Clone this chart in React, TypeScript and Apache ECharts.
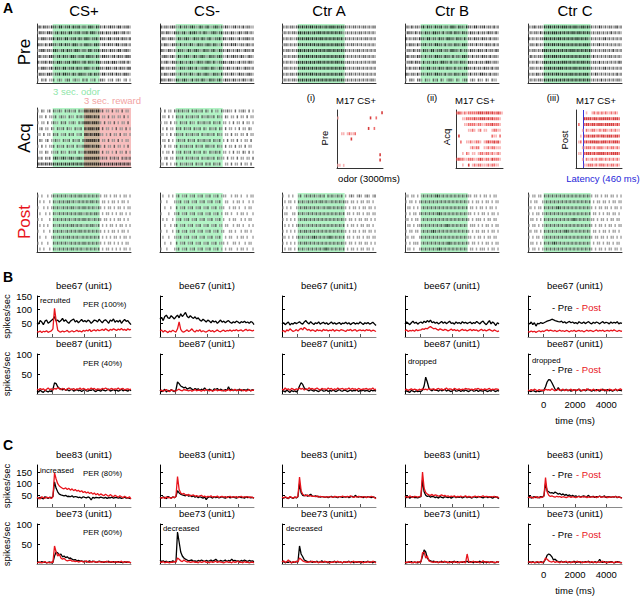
import React, { useEffect, useRef } from "react";
import * as echarts from "echarts";

// ---------------- data ----------------
const columnNames = ["CS+", "CS-", "Ctr A", "Ctr B", "Ctr C"];
const rowNames = ["Pre", "Acq", "Post"];
const timeMin = -1000;
const timeMax = 5000;
const xTickValues = [0, 2000, 4000];
const odorWindow = [0, 3000];
const rewardWindow = [2000, 5000];
const latencyMs = 460;

// raster rows: one char per 125 ms bin from -1000 ms; 0 none, 1 light, 2 mid, 3 dark spike
const preCSplus = [
  "231322132213312231322312213321322131232213312231",
  "132213321231322133122312231332122313221332123121",
  "213321223132213312231321332122313221331223132213",
  "322131332212313221332121332213321231322133122312",
  "123312213321231322133212213312231322132213312321",
  "231221332123132213321223133221321332212313221332",
  "312231322133212231332212313221332122313321223131",
  "213321231322133122313221332121332213321231322133",
  "132213321223133221321332212313221331223132213321",
  "102120112012101220121102120112012210112012101201",
];
const preCSminus = [
  "312212321131221232113212311232121321123121312211",
  "221321132212311323212132112321231221321132123121",
  "132123211321232113221321231122313212321131223212",
  "213211322131221321132212321321131221323112213212",
  "321132121322113212321132212311322132121321132213",
  "123212311321232113212321132212321131232213211321",
  "212311322132121321132212321311223212321131221321",
  "331221321132212321311223213211322132121321132212",
  "213212321131221321132123211322131221321132212321",
  "322132113212321131221321132212311322132121321131",
];
const preCtrA = [
  "212122123232323323232232333232322121221212212122",
  "121212213323232232332323232323211212121221212121",
  "212121123232332323233232323232312121212121221212",
  "122121213232323232323323232332321212212121212121",
  "212212123323232323232323323232322121212212121212",
  "121212213232332323232323232323231212121212212121",
  "212121123232323232332323232332321221212121212122",
  "122121213233232323232323232323232121212212121212",
  "212122123232323323232323232323312122121212121212",
  "121212213232323232323232323232321212121212121221",
];
const preCtrB = [
  "221312212313221322312213321322132213312231221312",
  "132213122132213322131223132213221322131221322131",
  "312122132213312213221332213221312213221322131221",
  "213221312231221332213122132213321221312213221312",
  "122131221322133122312213322131221322132213122132",
  "231221322131221332213221312213322131221322131221",
  "122313221312213221332213122132213221312213321221",
  "213122132213312213221322131221332213122132213122",
  "321221312213221332213122132213221312213322131221",
  "102210221021102120210122102101220121021102102110",
];
const preCtrC = [
  "212312213233232323332323322332322121321212212312",
  "121221313232333232323233233232321212212121312121",
  "312121223323232332323232332323212121212312121212",
  "122131213232332323323232323233321212312121212121",
  "212212133323232323232333232323232121212212131212",
  "131212213232333232323232323232321312121212212121",
  "212131123323232323332323232332321221312121212132",
  "122121313233232333232323323232322121212312121212",
  "212132123232323323232332323233312132121212121312",
  "121212213232323232323232323232321212131212121221",
];
const acqCSplus = [
  "102101202112102121120211332332331201102011020110",
  "011020111201211021102121233323230110201101102010",
  "101102012110212011210212333233321020110201011020",
  "012011021021120211021120323332330201101020110201",
  "110201102120112021201120332323331101020110201101",
  "021012011211021120211202233333230110201102010110",
  "102010112021120211202112333232331020110201101020",
  "011021011120211021120211323333320201101020110201",
  "212021202321232123212321333333331212021212021212",
  "323232323232323232323232333333333232323232323232",
];
const acqCSminus = [
  "102011021212112021211202102011021121102011210201",
  "011020102112021121120211211202110210110201102011",
  "101102011021120211021121120211201101020110201101",
  "010201102120211202112021021120210201101020110210",
  "110102012112021121120211211202110110201101102011",
  "011020101211202112021121120211201020110201011020",
  "102011012021121120211202211202110201102011020110",
  "010110201120211202112021021121201101020110210201",
  "101201102112021121120211211202111020110201101102",
  "110201012021121120211202120211200110201102011020",
];
const postCSplus = [
  "101001012121212112121221212121211011010110101101",
  "010100102112121221211212121221210110101101011010",
  "100101012121121212211212212121121010110101101011",
  "010010102112121212121221121212210101101010110101",
  "101000102121212121121212212112121011010101101010",
  "010101002112121212212121121221120101011010110101",
  "100100102121211212121221212121211010101101011010",
  "010010012112121221212112121212120101010110101101",
  "101001002121212112121212212121211010110101010110",
  "010100102112121212212121121212120101101010101101",
];
const postCSminus = [
  "010010101201120112011201120112011100101101001011",
  "100100011120112011201120112011200110010110100101",
  "001001002011201120112011201120111001011010010110",
  "100010011201120112011201120112010110100101101001",
  "010100101120112011201120112011201001011001010110",
  "001001012011201120112011201120110110010110100101",
  "100100101201120112011201120112011001101001011010",
  "010010011120112011201120112011200101100101101001",
  "001001002011201120112011201120111010011010010110",
  "100100011201120112011201120112010101100101101001",
];
const postCtrA = [
  "100101001201212121121202121121201012101210121012",
  "010110102121121212122121121212121101101011011010",
  "101010011212212121211212212121211010110101101101",
  "011001102121121212121212121212120110101101011011",
  "101010101212212121212121212121211011010110110101",
  "010101012121121212121212121212120101101011011010",
  "101010101212212121212121212121211010110101101101",
  "110101012121121232121212321212120110101101011011",
  "101010101212212121212121212121211011010110110101",
  "010110102121121212121232121212120101101011011010",
];
const postCtrB = [
  "110110101212121232121212121212121101101011010110",
  "101101012121212121212121212121211010110101101011",
  "011010101212121212121212121212120110101101011010",
  "101011012121212123212121212121211101010110101101",
  "110101101212121212121212121212121010111010110110",
  "011010112121212121212321212121210111010101101011",
  "101101101212123212121212121212121010110110101101",
  "110110012121212121212121212121211101011010110110",
  "101011101212121212121232121212121011010101101011",
  "011010012121212123212121212121210110101110101101",
];
const postCtrC = [
  "101101102121212121212121212121211011010110110101",
  "010110011212121212121212121212120101101101011011",
  "110101102121212321212121212121211010110110101101",
  "101011011212121212121212121212120110101011011010",
  "011010102121212121212123212121211101011010110110",
  "101101011212121212121212121212121010110101101011",
  "110110102121212121232121212121210110101101011010",
  "101011011212121212121212121212121011011010110101",
  "011010102121232121212121212121210101101011010110",
  "101101011212121212121212121212121010110101101101",
];
// M17 CS+ insets: one char per 125 ms bin over 0-3000 ms
const insetPre = [
  "000000000000000000000003",
  "100000000000000003002000",
  "000000000000000000000000",
  "000000000000000030020000",
  "001101211200000000000000",
  "000000030000000000000000",
  "000000000000000000000000",
  "000000000000000000000000",
  "000000000000000000000030",
  "000000000000000000000030",
  "110100000000000000000000",
];
const insetAcq = [
  "232121222223332332322321",
  "000112222322333232322210",
  "000011222212211222322210",
  "000000112101201100122110",
  "030000000000000000211020",
  "002001121122101232232310",
  "000000012122001121221110",
  "000102101101221221211210",
  "232211222112321221322210",
  "000100301212211121221100",
];
const insetPost = [
  "000001001212121211212100",
  "000033332332333333233320",
  "020023323323332333332320",
  "000102112211212211212110",
  "001022323323233233323320",
  "012023233333233323233320",
  "000112221212221121221210",
  "011023332323333232333320",
  "000102112121221212121210",
  "000011222121222121221210",
];

// firing-rate curves (spikes/sec), 60 samples spanning -1000..5000 ms, one array per column
const bTopTitle = "bee67 (unit1)";
const bBotTitle = "bee87 (unit1)";
const cTopTitle = "bee83 (unit1)";
const cBotTitle = "bee73 (unit1)";
const bTopPre = [
  [52,48,60,55,45,58,62,50,55,60,65,75,58,62,55,60,68,57,63,55,50,58,62,66,55,60,52,58,64,56,60,55,62,58,50,56,62,60,55,65,58,52,60,63,57,50,62,58,66,54,60,55,62,50,58,64,57,60,52,45],
  [65,72,60,75,80,70,68,78,72,66,74,80,70,85,75,82,90,76,70,78,72,68,74,66,70,62,58,65,60,55,62,58,52,60,55,58,50,56,62,54,58,52,57,60,54,50,56,52,58,55,50,56,53,58,52,55,50,56,54,45],
  [48,52,45,50,55,44,50,47,53,49,52,56,50,47,55,60,52,48,56,50,46,52,49,55,47,51,54,48,52,46,50,55,48,52,47,50,53,46,51,49,54,48,52,45,50,53,47,51,48,55,50,46,52,49,53,47,50,54,48,42],
  [48,55,50,45,52,58,50,54,47,52,55,50,58,53,60,55,62,52,56,50,54,48,52,57,50,55,49,53,58,50,52,47,55,50,53,48,56,51,54,49,52,55,48,53,50,57,52,48,55,58,50,45,53,60,48,55,50,42,52,48],
  [50,48,55,45,52,40,50,48,53,50,52,55,58,60,62,65,63,60,58,56,55,58,52,56,50,54,57,52,55,50,53,48,56,52,50,55,49,53,56,51,48,54,50,55,52,48,53,56,50,54,52,48,55,50,54,51,56,48,52,50],
];
const bTopPost = [
  [20,18,22,16,21,19,23,17,20,22,30,105,60,25,20,18,22,19,21,24,18,20,23,19,21,25,20,22,18,24,21,25,22,28,20,24,26,22,27,23,25,28,24,30,26,22,28,25,30,27,24,29,26,31,25,28,24,30,26,28],
  [22,25,18,24,20,16,22,19,25,21,18,30,55,28,20,18,22,26,20,24,30,22,18,25,21,27,19,23,20,18,22,25,20,24,18,22,26,21,19,23,25,20,24,22,26,21,25,23,27,22,24,26,21,25,28,23,26,24,22,25],
  [20,24,18,26,22,30,25,20,23,27,22,28,32,26,35,30,25,28,22,26,24,20,27,23,25,21,28,24,26,22,25,23,28,21,26,24,22,27,25,23,20,26,24,28,22,25,27,21,24,26,23,25,22,27,24,26,21,25,23,20],
  [22,26,20,24,22,25,21,27,23,25,26,30,28,32,30,35,38,34,30,32,28,25,30,27,24,28,26,22,25,29,24,27,23,26,21,25,28,24,26,22,25,28,23,27,24,26,21,25,28,23,26,22,25,28,24,21,26,23,20,22],
  [20,18,22,19,21,17,20,23,19,22,20,24,26,22,25,23,21,24,20,22,25,21,23,20,24,22,19,23,21,25,20,22,24,21,23,19,22,25,21,24,22,20,23,26,21,24,22,25,20,23,24,21,25,22,26,23,20,24,22,21],
];
const bBotPre = [
  [8,5,10,6,4,9,7,5,8,6,12,28,26,18,14,12,10,13,9,11,8,10,12,7,9,11,8,10,6,9,11,8,7,10,9,12,8,6,10,9,7,11,9,8,10,12,7,9,11,8,10,7,9,12,8,10,9,7,11,8],
  [10,6,8,12,5,9,7,11,8,6,10,30,26,20,18,15,17,12,14,16,12,10,14,11,13,9,12,10,15,11,9,12,10,8,13,11,14,9,12,10,8,11,9,18,10,12,8,11,9,10,12,8,10,11,9,12,10,8,11,9],
  [6,8,5,10,7,4,9,6,8,5,10,20,28,24,15,12,10,8,11,9,7,10,8,6,9,11,7,8,10,6,9,7,10,8,6,9,11,8,7,10,9,6,8,10,7,9,8,11,6,9,8,10,7,9,8,6,10,8,9,7],
  [5,8,6,4,9,7,5,8,6,7,6,10,20,42,30,15,10,8,12,9,10,7,11,8,9,12,7,10,8,6,9,11,7,8,10,6,9,7,10,8,6,9,11,7,8,10,6,9,8,7,10,8,6,9,7,11,8,6,9,7],
  [5,8,6,9,7,5,8,6,7,8,10,18,30,36,35,28,20,12,9,16,10,8,11,9,12,8,10,7,9,11,8,10,12,7,9,11,8,10,12,9,7,10,8,11,9,7,10,12,8,9,11,8,10,7,9,12,8,10,9,8],
];
const bBotPost = [
  [12,10,14,11,13,9,12,15,11,13,10,14,12,16,13,11,14,12,10,13,15,12,11,14,10,13,12,15,11,14,12,10,13,11,15,12,14,10,13,12,11,14,12,15,13,10,12,14,11,13,12,15,11,13,14,10,12,13,11,12],
  [8,10,7,9,11,8,6,10,9,7,8,10,12,9,8,11,10,9,8,10,7,9,11,8,10,9,7,10,8,11,9,8,10,7,9,11,8,10,9,8,10,7,9,11,8,10,9,12,8,10,9,11,8,10,7,9,11,8,10,9],
  [12,10,15,11,13,9,14,12,10,13,11,15,12,14,10,13,11,16,12,14,11,13,15,12,10,14,12,13,11,15,12,14,10,13,11,15,12,13,14,11,13,12,15,11,14,12,13,10,14,12,11,13,12,14,11,13,12,15,11,12],
  [10,12,9,11,13,10,12,11,9,12,10,13,11,12,10,14,11,12,13,10,12,14,11,13,10,12,15,11,13,12,10,14,12,11,13,10,12,11,14,12,13,11,12,10,13,12,14,11,12,10,13,11,12,14,10,12,11,13,12,11],
  [10,8,11,9,12,10,8,11,9,10,8,12,10,11,9,13,10,8,11,12,9,10,12,8,11,9,10,12,8,11,10,9,12,10,8,11,9,13,10,11,9,12,10,8,11,10,12,9,11,10,8,12,11,9,10,12,9,11,13,10],
];
const cTopPre = [
  [40,36,42,38,35,44,40,37,42,39,45,108,80,65,55,52,50,48,50,45,46,44,48,42,45,43,40,42,38,44,41,39,43,40,30,42,38,41,40,39,42,40,38,41,37,40,39,42,38,40,41,38,40,37,39,42,38,40,37,36],
  [42,38,44,40,36,45,41,38,43,40,45,70,60,55,52,50,48,52,46,50,44,48,42,46,40,44,41,38,43,32,40,44,42,38,45,40,43,39,41,44,40,38,42,45,39,41,43,40,38,42,44,40,41,38,43,40,42,39,41,38],
  [40,38,42,39,36,43,40,37,42,39,44,100,60,50,48,52,46,50,55,47,45,48,44,46,42,45,43,41,44,40,43,46,41,44,42,40,45,43,41,44,42,45,40,43,46,41,50,44,42,45,43,40,44,41,45,42,40,43,41,38],
  [45,40,43,38,42,44,40,41,39,42,44,115,65,50,45,48,42,46,44,40,43,38,45,41,39,44,42,40,43,38,42,45,40,43,41,44,39,42,45,40,43,41,38,44,42,40,43,45,41,39,42,44,40,43,41,38,42,44,40,36],
  [40,45,38,42,44,40,43,39,45,42,48,100,70,65,60,62,58,64,60,55,58,52,56,50,54,48,52,46,50,45,48,44,47,42,46,48,43,45,50,42,44,46,41,45,43,47,42,44,48,40,43,45,41,44,42,46,40,43,41,39],
];
const cTopPost = [
  [42,38,35,44,40,37,43,39,41,36,45,146,120,100,90,85,80,78,82,75,80,72,78,70,75,68,72,65,70,62,66,60,64,58,62,55,60,52,58,50,56,52,48,55,50,46,53,48,44,50,46,42,48,44,40,46,42,38,44,35],
  [40,38,42,36,44,39,41,37,43,40,45,130,75,60,55,58,52,50,54,48,50,52,46,49,45,48,50,44,47,42,46,44,48,42,45,43,47,41,44,46,42,45,40,43,46,41,44,42,45,40,43,46,41,44,42,45,40,43,41,38],
  [42,39,44,40,37,45,41,38,43,40,46,128,70,55,50,48,52,46,49,45,47,44,48,42,46,43,45,41,44,42,45,43,41,46,44,42,45,43,47,44,42,46,43,48,44,41,45,42,46,44,41,45,43,40,44,42,46,43,41,35],
  [42,45,40,48,43,41,46,44,42,45,47,150,80,62,55,52,50,54,48,52,50,46,49,52,47,50,45,48,44,47,45,48,42,46,44,47,43,45,48,42,46,44,41,45,47,43,46,42,45,48,43,46,44,42,45,43,46,41,44,38],
  [42,40,44,38,41,45,39,43,40,42,46,126,65,50,45,48,44,42,46,43,45,41,44,42,40,43,45,41,44,42,40,43,45,41,44,42,46,40,43,41,44,42,45,40,43,46,41,44,42,45,40,43,41,44,42,45,41,43,40,38],
];
const cBotPre = [
  [4,5,3,6,4,5,3,4,5,3,4,20,30,28,22,25,18,20,16,18,14,15,12,10,11,8,9,7,8,6,7,5,6,8,5,7,6,4,5,7,6,5,4,6,5,7,4,5,6,4,5,6,4,5,3,6,4,5,4,3],
  [10,6,8,5,7,4,6,5,8,6,5,80,55,30,20,15,12,10,8,9,10,7,8,6,9,7,10,8,6,9,7,8,10,7,9,12,8,6,9,7,8,10,6,9,7,12,8,9,7,8,6,9,7,10,8,6,9,7,8,6],
  [4,6,3,5,4,7,3,5,4,6,5,45,25,18,10,8,6,5,7,4,6,5,7,4,5,8,4,6,5,3,6,4,5,7,3,6,4,5,3,6,4,5,7,4,6,3,5,4,6,5,3,6,4,5,7,4,5,3,6,4],
  [4,3,5,4,6,3,5,4,3,5,6,20,35,30,15,10,8,6,7,5,6,4,5,7,4,6,5,3,6,4,5,7,4,6,3,5,4,6,5,7,4,6,5,3,6,4,5,7,4,5,6,3,5,4,6,5,3,4,6,4],
  [3,5,4,6,3,5,4,3,6,4,5,12,22,25,23,18,10,12,8,6,5,7,4,6,5,3,6,4,5,7,4,5,6,3,5,4,6,5,7,4,5,3,6,4,5,12,5,4,6,3,5,4,6,5,3,4,6,5,4,3],
];
const cBotPost = [
  [3,4,5,3,4,6,3,4,3,5,4,45,30,20,25,15,12,14,10,8,9,10,7,8,6,7,5,6,7,5,6,8,5,4,6,5,7,4,5,6,5,4,6,5,7,4,5,6,4,5,6,4,5,7,4,5,6,4,5,3],
  [5,4,6,3,5,4,3,5,4,6,5,15,12,8,6,10,7,5,6,4,5,6,4,5,3,6,4,5,7,4,5,3,6,4,5,7,4,6,5,4,3,5,6,4,5,3,6,4,5,7,4,5,3,6,4,5,3,4,5,3],
  [5,8,4,6,10,5,3,6,4,7,5,15,12,8,6,5,4,6,5,7,4,6,5,3,6,4,5,7,4,6,3,5,4,6,5,7,4,5,3,6,5,4,6,3,5,7,4,6,5,4,6,3,5,4,6,5,4,7,5,3],
  [3,5,4,6,3,4,5,3,6,4,5,28,30,15,20,8,6,5,4,6,5,3,6,4,5,7,4,5,3,6,4,5,6,3,5,4,6,5,3,25,6,4,5,7,4,6,5,3,5,8,4,6,5,3,6,4,5,3,6,4],
  [4,6,3,5,4,3,6,4,5,3,6,15,12,8,6,5,7,4,6,5,3,6,4,5,7,4,5,3,6,4,5,7,4,6,3,5,4,6,5,3,6,4,5,3,6,4,5,7,4,5,3,6,4,5,3,6,4,5,3,4],
];

// ---------------- layout / style ----------------
const FONT = "'Liberation Sans', Arial, sans-serif";
const RED = "#e8141c";
const GREEN_SHADE = "rgba(128,236,160,0.6)";
const RED_SHADE = "rgba(238,110,110,0.45)";
const colLeft = [37, 160, 282, 405, 528];
const PW = 94;
const rasterTops = [24, 108, 193];
const RH = 59;
const grayPalette = ["", "#8a8a8a", "#404040", "#000000"];
const redPalette = ["", "#f6a3a3", "#ea4a4a", "#cc0c0c"];

function buildOption() {
  const grid: any[] = [];
  const xAxis: any[] = [];
  const yAxis: any[] = [];
  const series: any[] = [];
  const graphic: any[] = [];

  const addGrid = (left: number, top: number, width: number, height: number, xa: any, ya: any) => {
    const i = grid.length;
    grid.push({ left, top, width, height });
    xAxis.push({ gridIndex: i, ...xa });
    yAxis.push({ gridIndex: i, ...ya });
    return i;
  };
  const noDeco = { axisTick: { show: false }, axisLabel: { show: false }, splitLine: { show: false } };

  const addRaster = (left: number, top: number, width: number, height: number, rows: string[], tMin: number, tMax: number, palette: string[], shades: any[], mark: number | null, spikeW: number, spikeH: number) => {
    const gi = addGrid(left, top, width, height,
      { type: "value", min: tMin, max: tMax, axisLine: { show: true, onZero: false, lineStyle: { color: "#333", width: 1 } }, ...noDeco },
      { type: "value", min: 0, max: rows.length, inverse: true, axisLine: { show: true, onZero: false, lineStyle: { color: "#333", width: 1 } }, ...noDeco });
    const bin = 125;
    if (shades.length || mark !== null) {
      series.push({
        type: "line", xAxisIndex: gi, yAxisIndex: gi, data: [], silent: true, z: 1,
        markArea: shades.length ? { silent: true, data: shades.map((s) => [{ xAxis: s[0], itemStyle: { color: s[2] } }, { xAxis: s[1] }]) } : undefined,
        markLine: mark !== null ? { silent: true, symbol: "none", label: { show: false }, lineStyle: { color: "#3333dd", width: 1, type: "solid" }, data: [{ xAxis: mark }] } : undefined,
      });
    }
    const data: any[] = [];
    rows.forEach((row, r) => {
      for (let k = 0; k < row.length; k++) {
        const c = +row[k];
        if (c > 0) data.push({ value: [tMin + (k + 0.5) * bin, r + 0.5], itemStyle: { color: palette[c] } });
      }
    });
    series.push({ type: "scatter", xAxisIndex: gi, yAxisIndex: gi, symbol: "rect", symbolSize: [spikeW, spikeH], data, silent: true, z: 5 });
  };

  const addLines = (left: number, top: number, height: number, ymax: number, yTicks: number[], showY: boolean, showX: boolean, pre: number[], post: number[]) => {
    const lab = { fontSize: 9.5, fontFamily: FONT, color: "#000", margin: 5, formatter: (v: number) => String(v) };
    const gi = addGrid(left, top, PW, height,
      { type: "value", min: timeMin, max: timeMax, axisLine: { show: true, onZero: false, lineStyle: { color: "#8a8a8a", width: 1 } },
        axisTick: { show: true, inside: true, length: 3, customValues: xTickValues, lineStyle: { color: "#555" } },
        axisLabel: { show: showX, customValues: xTickValues, ...lab }, splitLine: { show: false } },
      { type: "value", min: 0, max: ymax,
        name: showY ? "spikes/sec" : "", nameLocation: "middle", nameGap: 26, nameRotate: 90,
        nameTextStyle: { fontSize: 9.5, fontFamily: FONT, color: "#000" },
        axisLine: { show: true, onZero: false, lineStyle: { color: "#000", width: 1 } },
        axisTick: { show: true, inside: true, length: 3, customValues: yTicks, lineStyle: { color: "#000" } },
        axisLabel: { show: showY, customValues: yTicks, ...lab }, splitLine: { show: false } });
    const toXY = (arr: number[]) => arr.map((v, i) => [timeMin + (i * (timeMax - timeMin)) / (arr.length - 1), v]);
    series.push({ type: "line", xAxisIndex: gi, yAxisIndex: gi, data: toXY(pre), showSymbol: false, silent: true, z: 3, lineStyle: { color: "#000", width: 1.3 } });
    series.push({ type: "line", xAxisIndex: gi, yAxisIndex: gi, data: toXY(post), showSymbol: false, silent: true, z: 4, lineStyle: { color: RED, width: 1.3 } });
  };

  const txt = (text: string, x: number, y: number, size: number, o: any = {}) => {
    graphic.push({
      type: "text", x, y, rotation: o.rot || 0, silent: true,
      style: {
        text, fill: o.color || "#000", font: `${o.bold ? "bold " : ""}${size}px ${FONT}`,
        textAlign: o.align || "center", textVerticalAlign: "middle", align: o.align || "center", verticalAlign: "middle",
      },
    });
  };

  // ---- panel A rasters ----
  const green = [odorWindow[0], odorWindow[1], GREEN_SHADE];
  const red = [rewardWindow[0], rewardWindow[1], RED_SHADE];
  const preSets = [preCSplus, preCSminus, preCtrA, preCtrB, preCtrC];
  const postSets = [postCSplus, postCSminus, postCtrA, postCtrB, postCtrC];
  preSets.forEach((rows, c) => addRaster(colLeft[c], rasterTops[0], PW, RH, rows, timeMin, timeMax, grayPalette, [green], null, 1.4, 3));
  addRaster(colLeft[0], rasterTops[1], PW, RH, acqCSplus, timeMin, timeMax, grayPalette, [green, red], null, 1.4, 3);
  addRaster(colLeft[1], rasterTops[1], PW, RH, acqCSminus, timeMin, timeMax, grayPalette, [green], null, 1.4, 3);
  postSets.forEach((rows, c) => addRaster(colLeft[c], rasterTops[2], PW, RH, rows, timeMin, timeMax, grayPalette, [green], null, 1.4, 3));

  // insets
  addRaster(337, 110, 46, 58, insetPre, 0, 3000, redPalette, [], null, 1.6, 3);
  addRaster(456, 110, 47, 58, insetAcq, 0, 3000, redPalette, [], null, 1.6, 3);
  addRaster(576, 110, 46, 58, insetPost, 0, 3000, redPalette, [], latencyMs, 1.6, 3);

  // ---- panels B and C ----
  for (let c = 0; c < 5; c++) {
    addLines(colLeft[c], 296, 41, 150, [50, 100, 150], c === 0, false, bTopPre[c], bTopPost[c]);
    addLines(colLeft[c], 354, 40, 100, [50, 100], c === 0, c === 4, bBotPre[c], bBotPost[c]);
    addLines(colLeft[c], 465, 42, 180, [50, 100, 150], c === 0, false, cTopPre[c], cTopPost[c]);
    addLines(colLeft[c], 524, 40, 100, [50, 100], c === 0, c === 4, cBotPre[c], cBotPost[c]);
  }

  // ---- texts ----
  txt("A", 8, 8, 14, { bold: true });
  txt("B", 8, 277, 14, { bold: true });
  txt("C", 8, 445, 14, { bold: true });
  columnNames.forEach((n, c) => txt(n, colLeft[c] + PW / 2, 10, 15));
  txt(rowNames[0], 24, 52, 17, { rot: Math.PI / 2 });
  txt(rowNames[1], 24, 138, 17, { rot: Math.PI / 2 });
  txt(rowNames[2], 24, 222, 17, { rot: Math.PI / 2, color: RED });
  txt("3 sec. odor", 53, 91, 9.5, { align: "left", color: "#8fe6a9" });
  txt("3 sec. reward", 84, 100, 9.5, { align: "left", color: "#f2a3a3" });

  txt("(i)", 311, 97, 9.5);
  txt("M17 CS+", 356, 100, 9.5);
  txt("Pre", 324, 138, 9.5, { rot: Math.PI / 2 });
  txt("odor (3000ms)", 369, 178, 9.5);
  txt("(ii)", 432, 97, 9.5);
  txt("M17 CS+", 475, 100, 9.5);
  txt("Acq", 446, 137, 9.5, { rot: Math.PI / 2 });
  txt("(iii)", 553, 97, 9.5);
  txt("M17 CS+", 596, 100, 9.5);
  txt("Post", 564, 140, 9.5, { rot: Math.PI / 2 });
  txt("Latency (460 ms)", 603, 178, 9.5, { color: "#2626d9" });

  for (let c = 0; c < 5; c++) {
    const cx = colLeft[c] + PW / 2;
    txt(bTopTitle, cx, 285, 9.5);
    txt(bBotTitle, cx, 343, 9.5);
    txt(cTopTitle, cx, 454, 9.5);
    txt(cBotTitle, cx, 513, 9.5);
  }
  txt("time (ms)", 575, 420, 9.5);
  txt("time (ms)", 575, 590, 9.5);

  txt("recruited", 40, 300, 7.8, { align: "left" });
  txt("PER (100%)", 83, 304, 7.8, { align: "left" });
  txt("PER (40%)", 83, 363, 7.8, { align: "left" });
  txt("dropped", 408, 361, 7.8, { align: "left" });
  txt("dropped", 532, 360, 7.8, { align: "left" });
  txt("increased", 40, 470, 7.8, { align: "left" });
  txt("PER (80%)", 83, 473, 7.8, { align: "left" });
  txt("PER (60%)", 83, 532, 7.8, { align: "left" });
  txt("decreased", 163, 528, 7.8, { align: "left" });
  txt("decreased", 286, 528, 7.8, { align: "left" });
  [307, 369, 474, 534].forEach((y) => {
    txt("- Pre", 552, y, 9.5, { align: "left" });
    txt("- Post", 576, y, 9.5, { align: "left", color: RED });
  });

  return { animation: false, backgroundColor: "#fff", grid, xAxis, yAxis, series, graphic };
}

export default function App() {
  const ref = useRef<HTMLDivElement>(null);
  useEffect(() => {
    if (!ref.current) return;
    const chart = echarts.init(ref.current, null, { renderer: "svg", width: 640, height: 596 });
    chart.setOption(buildOption() as any);
    return () => chart.dispose();
  }, []);
  return <div ref={ref} style={{ position: "absolute", left: 0, top: 0, width: 640, height: 596, background: "#fff" }} />;
}
